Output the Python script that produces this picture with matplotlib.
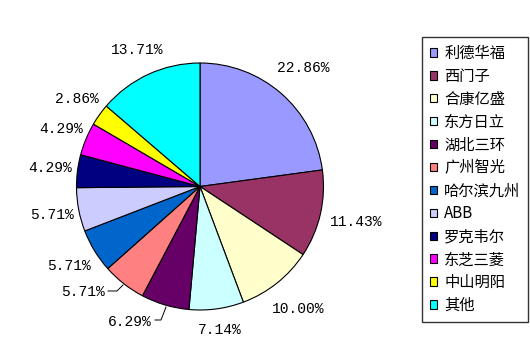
import matplotlib
matplotlib.use("Agg")
import matplotlib.pyplot as plt
import numpy as np

# share of each maker, in percent (clockwise from 12 o'clock)
makers = ['利德华福', '西门子', '合康亿盛', '东方日立', '湖北三环', '广州智光',
          '哈尔滨九州', 'ABB', '罗克韦尔', '东芝三菱', '中山明阳', '其他']
shares = [22.86, 11.43, 10.00, 7.14, 6.29, 5.71, 5.71, 5.71, 4.29, 4.29, 2.86, 13.71]
colors = ['#9999FF', '#993366', '#FFFFCC', '#CCFFFF', '#660066', '#FF8080',
          '#0066CC', '#CCCCFF', '#000080', '#FF00FF', '#FFFF00', '#00FFFF']

plt.rcParams['font.family'] = ['Noto Sans CJK SC', 'DejaVu Sans']

W, H = 530, 351
fig = plt.figure(figsize=(W / 100, H / 100), dpi=100)

# pie centre (200, 186.5) px from top-left, radius ~123.5 px
R_px = 123.5
L = 1.35
S = 2 * L * R_px
cx, cy = 200, H - 186.5
ax = fig.add_axes([(cx - S / 2) / W, (cy - S / 2) / H, S / W, S / H])

wedges, _, autotexts = ax.pie(
    shares, colors=colors, startangle=90, counterclock=False,
    autopct='%.2f%%', pctdistance=1.24,
    wedgeprops=dict(edgecolor='black', linewidth=0.8),
    textprops=dict(family='Liberation Mono', fontsize=10.5, color='black'))
ax.set_xlim(-L, L)
ax.set_ylim(-L, L)
ax.set_aspect('equal')
ax.axis('off')

# tweak the label radii a little to follow the reference
radius = [1.27, 1.30, 1.27, 1.17, 1.24, 1.24, 1.24, 1.22, 1.22, 1.22, 1.22, 1.22]
for w, t, r in zip(wedges, autotexts, radius):
    mid = np.deg2rad((w.theta1 + w.theta2) / 2)
    t.set_position((r * np.cos(mid), r * np.sin(mid)))

# the two labels moved outward with leader lines
def px(x, y):
    return ((x - 200) / R_px, (186.5 - y) / R_px)

autotexts[4].set_position(px(130, 322))
ax.plot(*zip(px(155, 320), px(161, 320), px(166, 307)), color='black', lw=0.7,
        clip_on=False)
autotexts[5].set_position(px(83, 292))
ax.plot(*zip(px(108, 291), px(117, 291), px(123, 285)), color='black', lw=0.7,
        clip_on=False)

leg = fig.legend(wedges, makers, loc='upper left',
                 bbox_to_anchor=(422 / W, 1 - 37 / H),
                 frameon=True, fancybox=False, shadow=False,
                 edgecolor='black', fontsize=11,
                 handlelength=0.5, handleheight=0.5, handletextpad=0.45,
                 labelspacing=0.39, borderpad=0.5, borderaxespad=0)
leg.get_frame().set_linewidth(1.0)
for h in leg.legend_handles:
    h.set_linewidth(0.8)

fig.savefig('out.png', dpi=100)
